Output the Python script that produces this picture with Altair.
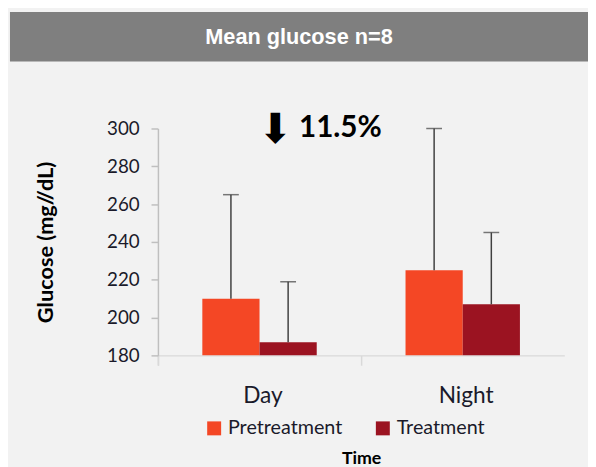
import altair as alt
import pandas as pd

times = ["Day", "Day", "Night", "Night"]
groups = ["Pretreatment", "Treatment", "Pretreatment", "Treatment"]
means = [210, 187, 225, 207]
uppers = [265, 219, 300, 245]
y_ticks = [180, 200, 220, 240, 260, 280, 300]
colors = ["#f44725", "#9b1321"]
title_text = "Mean glucose n=8"
annot_text = "11.5%"

df = pd.DataFrame({"Time": times, "Group": groups, "Mean": means, "Upper": uppers})

FONT = "Lato"
P_IN = 0.437

x_axis = alt.Axis(title="Time", titleFont=FONT, titleFontSize=18, titleFontWeight="bold",
                  titleColor="#000000", titleY=96, titleBaseline="top",
                  labelAngle=0, labelFont=FONT, labelFontSize=23, labelColor="#1a1a2a",
                  labelPadding=20, labelOffset=48, domainColor="#d9d9d9", domainWidth=1.5,
                  tickColor="#d9d9d9", tickSize=10, tickWidth=1.5,
                  bandPosition=0, tickOffset=-45, tickExtra=True, labelOverlap=False)
x_scale = alt.Scale(paddingInner=P_IN, paddingOuter=P_IN / 2)
xo = alt.XOffset("Group:N", scale=alt.Scale(paddingInner=0, paddingOuter=0))
y_scale = alt.Scale(domain=[180, 300], zero=False, nice=False)
y_axis = alt.Axis(values=y_ticks, title="Glucose (mg//dL)", titleFont=FONT,
                  titleFontSize=22, titleFontWeight="bold", titleColor="#000000",
                  titlePadding=50, labelFont=FONT, labelFontSize=19, labelColor="#1a1a2a",
                  labelPadding=12, domainColor="#bfbfbf", domainWidth=1.5,
                  tickColor="#bfbfbf", tickSize=7, tickWidth=1.5, grid=False,
                  labelOverlap=False)

base = alt.Chart(df)

bars = base.mark_bar(clip=True).encode(
    x=alt.X("Time:N", scale=x_scale, axis=x_axis), xOffset=xo,
    y=alt.Y("Mean:Q", scale=y_scale, axis=y_axis),
    color=alt.Color("Group:N", scale=alt.Scale(domain=["Pretreatment", "Treatment"], range=colors),
                    legend=alt.Legend(title=None, orient="none", legendX=47, legendY=294,
                                      direction="horizontal", symbolType="square", symbolSize=200,
                                      symbolStrokeWidth=0, symbolOpacity=1, labelFont=FONT,
                                      labelFontSize=20, labelColor="#1a1a2a", labelOffset=4,
                                      columnPadding=31)),
)

err = base.mark_rule(color="#404040", strokeWidth=1.5).encode(
    x=alt.X("Time:N", scale=x_scale, axis=x_axis), xOffset=xo,
    y=alt.Y("Mean:Q", scale=y_scale, axis=y_axis), y2="Upper:Q")
caps = base.mark_tick(color="#404040", thickness=1.5, size=16, orient="horizontal").encode(
    x=alt.X("Time:N", scale=x_scale, axis=x_axis), xOffset=xo,
    y=alt.Y("Upper:Q", scale=y_scale, axis=y_axis))

tb = pd.DataFrame({"t": [title_text]})
title_bar = alt.Chart(tb).mark_rect(color="#7f7f7f").encode(
    x=alt.value(-150), x2=alt.value(436), y=alt.value(-118), y2=alt.value(-68))
title_txt = alt.Chart(tb).mark_text(font="Liberation Sans", fontSize=22, fontWeight="bold",
                                    color="#ffffff").encode(
    x=alt.value(143), y=alt.value(-93), text="t:N")

an = pd.DataFrame({"Time": ["Day"], "v": [300], "t": [annot_text], "a": ["\u2B07"]})
arrow = alt.Chart(an).mark_text(font="DejaVu Sans", fontSize=42, color="#000000", dx=16,
                                dy=2, baseline="middle").encode(
    x=alt.X("Time:N", scale=x_scale, axis=x_axis),
    y=alt.Y("v:Q", scale=y_scale, axis=y_axis), text="a:N")
annot = alt.Chart(an).mark_text(font=FONT, fontSize=30, fontWeight="bold", color="#000000",
                                align="left", dx=40, baseline="middle").encode(
    x=alt.X("Time:N", scale=x_scale, axis=x_axis),
    y=alt.Y("v:Q", scale=y_scale, axis=y_axis), text="t:N")

chart = alt.layer(title_bar, title_txt, bars, err, caps, arrow, annot).properties(
    width=412, height=230,
    autosize=alt.AutoSizeParams(type="none"),
    padding={"left": 152, "top": 119, "right": 24, "bottom": 110},
    background="#f2f2f2",
).configure_view(stroke=None)

chart.save("out.html", embed_options={"renderer": "svg", "actions": False})
